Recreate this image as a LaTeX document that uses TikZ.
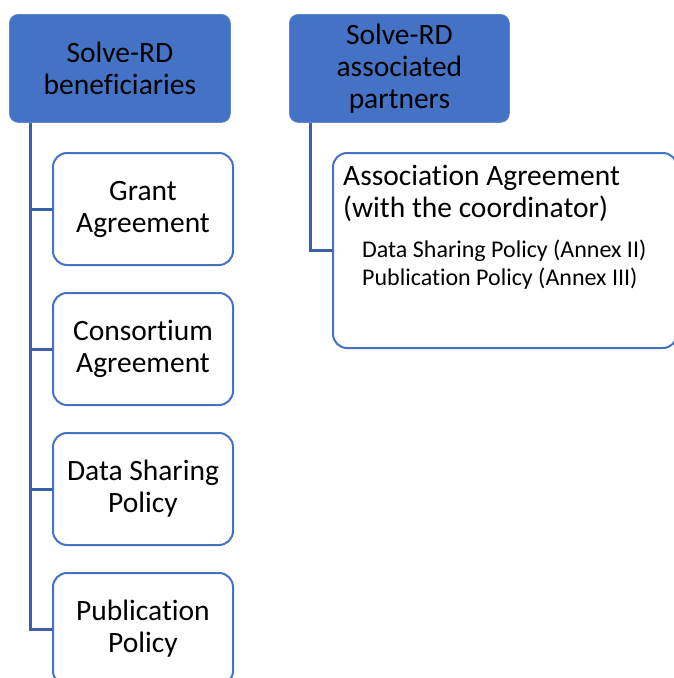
\documentclass[tikz,border=0pt]{standalone}
\usepackage{fontspec}
\setmainfont{Carlito}[Ligatures={NoCommon}]
\definecolor{hdr}{HTML}{4472C4}
\definecolor{connc}{HTML}{3B60A8}
\begin{document}
\begin{tikzpicture}[x=1pt,y=-1pt,
  hdrbox/.style={rectangle, rounded corners=9pt, fill=hdr, draw=hdr!85!white, line width=0.8pt,
    minimum width=221pt, minimum height=108pt, anchor=north west, align=center,
    inner sep=0pt, font=\fontsize{29.5}{32}\selectfont},
  docbox/.style={rectangle, rounded corners=14pt, draw=hdr, line width=2pt, fill=white,
    minimum width=180pt, minimum height=112pt, anchor=north west, align=center,
    inner sep=0pt, font=\fontsize{29.5}{32}\selectfont},
  conn/.style={draw=connc, line width=3pt},
  bigtxt/.style={anchor=base west, inner sep=0pt, font=\fontsize{29.5}{32}\selectfont},
  smalltxt/.style={anchor=base west, inner sep=0pt, font=\fontsize{24}{28}\selectfont}]
\useasboundingbox (0,0) rectangle (673,678);
\node[hdrbox] (hb1) at (9,14) {Solve-RD\\beneficiaries};
\node[hdrbox, minimum width=220pt] (hb2) at (289,14) {Solve-RD\\associated\\partners};
\node[docbox] (g1) at (52,152) {Grant\\Agreement};
\node[docbox] (g2) at (52,292) {Consortium\\Agreement};
\node[docbox] (g3) at (52,432) {Data Sharing\\Policy};
\node[docbox] (g4) at (52,572) {Publication\\Policy};
\node[docbox, minimum width=344pt, minimum height=195pt] (a1) at (332,152) {};
\node[bigtxt] (t1) at (343,185) {Association Agreement};
\node[bigtxt] (t2) at (343,217) {(with the coordinator)};
\node[smalltxt] (t3) at (362,257) {Data Sharing Policy (Annex II)};
\node[smalltxt] (t4) at (362,285) {Publication Policy (Annex III)};
\draw[conn] ([xshift=21pt]hb1.south west) |- (g1.west);
\draw[conn] ([xshift=21pt]hb1.south west) |- (g2.west);
\draw[conn] ([xshift=21pt]hb1.south west) |- (g3.west);
\draw[conn] ([xshift=21pt]hb1.south west) |- (g4.west);
\draw[conn] ([xshift=21pt]hb2.south west) |- (a1.west);
\end{tikzpicture}
\end{document}
